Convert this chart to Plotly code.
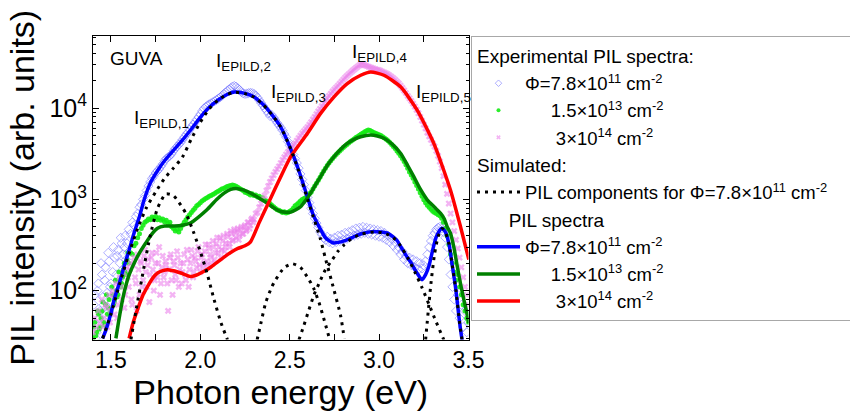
import math
import plotly.graph_objects as go

FONT = "Arial, Liberation Sans, sans-serif"

# ---------------- experimental spectra ----------------
exp_energy = [
    1.40, 1.41, 1.42, 1.43, 1.44, 1.45, 1.46, 1.47, 1.48, 1.49,
    1.50, 1.51, 1.52, 1.53, 1.54, 1.55, 1.56, 1.57, 1.58, 1.59,
    1.60, 1.61, 1.62, 1.63, 1.64, 1.65, 1.66, 1.67, 1.68, 1.69,
    1.70, 1.71, 1.72, 1.73, 1.74, 1.75, 1.76, 1.77, 1.78, 1.79,
    1.80, 1.81, 1.82, 1.83, 1.84, 1.85, 1.86, 1.87, 1.88, 1.89,
    1.90, 1.91, 1.92, 1.93, 1.94, 1.95, 1.96, 1.97, 1.98, 1.99,
    2.00, 2.01, 2.02, 2.03, 2.04, 2.05, 2.06, 2.07, 2.08, 2.09,
    2.10, 2.11, 2.12, 2.13, 2.14, 2.15, 2.16, 2.17, 2.18, 2.19,
    2.20, 2.21, 2.22, 2.23, 2.24, 2.25, 2.26, 2.27, 2.28, 2.29,
    2.30, 2.31, 2.32, 2.33, 2.34, 2.35, 2.36, 2.37, 2.38, 2.39,
    2.40, 2.41, 2.42, 2.43, 2.44, 2.45, 2.46, 2.47, 2.48, 2.49,
    2.50, 2.51, 2.52, 2.53, 2.54, 2.55, 2.56, 2.57, 2.58, 2.59,
    2.60, 2.61, 2.62, 2.63, 2.64, 2.65, 2.66, 2.67, 2.68, 2.69,
    2.70, 2.71, 2.72, 2.73, 2.74, 2.75, 2.76, 2.77, 2.78, 2.79,
    2.80, 2.81, 2.82, 2.83, 2.84, 2.85, 2.86, 2.87, 2.88, 2.89,
    2.90, 2.91, 2.92, 2.93, 2.94, 2.95, 2.96, 2.97, 2.98, 2.99,
    3.00, 3.01, 3.02, 3.03, 3.04, 3.05, 3.06, 3.07, 3.08, 3.09,
    3.10, 3.11, 3.12, 3.13, 3.14, 3.15, 3.16, 3.17, 3.18, 3.19,
    3.20, 3.21, 3.22, 3.23, 3.24, 3.25, 3.26, 3.27, 3.28, 3.29,
    3.30, 3.31, 3.32, 3.33, 3.34, 3.35, 3.36, 3.37, 3.38, 3.39,
    3.40, 3.41, 3.42, 3.43, 3.44, 3.45, 3.46, 3.47, 3.48, 3.49,
    3.50,
]

exp_phi_7p8e11 = [
    45, 90, 35, 120, 60, 150, 70, 180, 95, 210,
    120, 160, 230, 150, 280, 200, 330, 250, 400, 330,
    470, 420, 560, 520, 650, 700, 820, 880, 1000, 1100,
    1250, 1400, 1550, 1700, 1800, 1950, 2050, 2150, 2300, 2450,
    2650, 2800, 2900, 3000, 3150, 3400, 3600, 3800, 4000, 4200,
    4500, 4800, 5100, 5400, 5800, 6200, 6600, 7000, 7500, 8000,
    8600, 9300, 9900, 10300, 10700, 11000, 11300, 11600, 11900, 12300,
    12700, 13100, 13600, 14200, 14800, 15400, 16000, 16600, 17200, 17500,
    17200, 16500, 15800, 15000, 14500, 14300, 14400, 14600, 14700, 14600,
    14300, 13800, 13000, 12200, 11400, 10700, 10000, 9400, 8800, 8200,
    8400, 7900, 7400, 6900, 6500, 6100, 5700, 5200, 4800, 4300,
    3900, 3500, 3100, 2800, 2500, 2200, 1900, 1650, 1450, 1250,
    1050, 920, 800, 700, 620, 550, 490, 440, 410, 380,
    360, 390, 340, 370, 330, 380, 340, 400, 350, 410,
    360, 430, 370, 440, 390, 460, 400, 480, 410, 490,
    420, 500, 430, 490, 420, 480, 410, 470, 400, 460,
    390, 450, 380, 430, 360, 400, 340, 370, 310, 340,
    280, 300, 250, 270, 220, 240, 200, 230, 190, 220,
    180, 210, 170, 200, 175, 190, 210, 250, 300, 350,
    400, 430, 470, 490, 500, 480, 440, 380, 300, 220,
    150, 110, 80, 60, 90, 50, 70, 40, 60, 35,
    45,
]

exp_phi_1p5e13 = [
    30, 45, 35, 55, 40, 60, 45, 70, 55, 80,
    60, 90, 75, 100, 90, 130, 120, 170, 160, 220,
    200, 260, 250, 310, 330, 380, 420, 480, 520, 560,
    580, 610, 600, 640, 620, 650, 600, 630, 590, 610,
    570, 590, 540, 560, 500, 480, 450, 470, 440, 480,
    520, 560, 600, 640, 680, 720, 760, 800, 850, 880,
    920, 960, 990, 1020, 1050, 1080, 1100, 1130, 1160, 1200,
    1230, 1260, 1300, 1320, 1350, 1380, 1400, 1420, 1440, 1420,
    1390, 1360, 1320, 1280, 1250, 1200, 1180, 1150, 1120, 1150,
    1100, 1120, 1060, 1080, 1020, 1040, 980, 960, 930, 900,
    860, 830, 800, 770, 760, 740, 720, 730, 710, 720,
    740, 760, 800, 850, 880, 920, 960, 1000, 1020, 1050,
    1100, 1150, 1200, 1300, 1400, 1500, 1620, 1750, 1900, 2050,
    2200, 2350, 2500, 2650, 2800, 2950, 3100, 3250, 3400, 3550,
    3700, 3850, 4000, 4150, 4300, 4450, 4600, 4750, 4900, 5050,
    5200, 5350, 5500, 5650, 5750, 5700, 5550, 5400, 5300, 5200,
    5100, 5000, 4850, 4700, 4550, 4400, 4200, 4000, 3800, 3600,
    3400, 3200, 3000, 2800, 2600, 2400, 2200, 2000, 1850, 1700,
    1550, 1420, 1300, 1180, 1080, 990, 920, 860, 820, 780,
    740, 720, 700, 680, 660, 620, 560, 480, 400, 320,
    250, 200, 160, 130, 150, 110, 90, 70, 60, 50,
    45,
]

exp_phi_3e14 = [
    35, 50, 40, 60, 45, 80, 50, 70, 40, 90,
    60, 100, 55, 120, 70, 140, 80, 160, 90, 180,
    110, 200, 70, 230, 120, 250, 90, 200, 130, 280,
    110, 220, 150, 260, 100, 200, 140, 300, 120, 240,
    160, 190, 60, 230, 130, 210, 150, 270, 110, 200,
    160, 250, 130, 220, 170, 280, 140, 230, 180, 300,
    160, 250, 200, 320, 190, 290, 230, 350, 220, 330,
    260, 380, 280, 400, 300, 420, 330, 450, 350, 470,
    380, 480, 400, 500, 420, 520, 460, 560, 520, 620,
    600, 700, 720, 820, 900, 1000, 1100, 1250, 1400, 1550,
    1700, 1850, 2000, 2150, 2300, 2500, 2700, 2900, 3100, 3300,
    3500, 3700, 3900, 4100, 4400, 4700, 5000, 5300, 5600, 5900,
    6200, 6600, 7000, 7500, 8000, 8600, 9200, 9800, 10500, 11200,
    12000, 12800, 13600, 14400, 15200, 16000, 16800, 17600, 18500, 19500,
    20500, 21500, 22500, 23500, 24500, 25500, 26500, 27500, 28500, 29500,
    30000, 30000, 29500, 29000, 28500, 28000, 27500, 27000, 26700, 26300,
    26000, 25500, 25000, 24500, 24000, 23400, 22700, 22000, 21200, 20400,
    19500, 18600, 17600, 16600, 15600, 14600, 13600, 12800, 12000, 11200,
    10400, 9600, 8800, 8000, 7300, 6600, 6000, 5400, 4900, 4500,
    4100, 3800, 3400, 3000, 2600, 2200, 1800, 1450, 1150, 900,
    700, 560, 450, 360, 290, 230, 180, 140, 110, 90,
    70,
]

# extra (half-step) points where the measured clouds are wide
extra_energy_low = [
    1.405, 1.415, 1.425, 1.435, 1.445, 1.455, 1.465, 1.475, 1.485, 1.495,
    1.505, 1.515, 1.525, 1.535, 1.545, 1.555, 1.565, 1.575, 1.585, 1.595,
]
extra_phi_7p8e11 = [70, 30, 100, 50, 200, 85, 130, 55, 260, 110,
                    75, 300, 110, 240, 130, 380, 170, 300, 220, 260]
extra_phi_1p5e13 = [40, 32, 60, 38, 50, 75, 42, 90, 65, 55,
                    110, 70, 130, 85, 160, 110, 140, 200, 150, 260]

extra_energy_pink = [
    1.455, 1.475, 1.495, 1.515, 1.535, 1.555, 1.575, 1.595,
    1.605, 1.615, 1.625, 1.635, 1.645, 1.655, 1.665, 1.675, 1.685, 1.695,
    1.705, 1.715, 1.725, 1.735, 1.745, 1.755, 1.765, 1.775, 1.785, 1.795,
    1.805, 1.815, 1.825, 1.835, 1.845, 1.855, 1.865, 1.875, 1.885, 1.895,
    1.905, 1.915, 1.925, 1.935, 1.945, 1.955, 1.965, 1.975, 1.985, 1.995,
    2.005, 2.015, 2.025, 2.035, 2.045, 2.055, 2.065, 2.075, 2.085, 2.095,
    2.105, 2.115, 2.125, 2.135, 2.145, 2.155, 2.165, 2.175, 2.185, 2.195,
    2.205, 2.215, 2.225, 2.235, 2.245, 2.255, 2.265, 2.275, 2.285, 2.295,
]
extra_phi_3e14 = [
    40, 65, 45, 90, 50, 110, 65, 140,
    170, 80, 190, 140, 60, 170, 210, 110, 240, 160,
    190, 75, 230, 170, 130, 260, 200, 90, 180, 140,
    210, 120, 170, 250, 90, 190, 130, 230, 170, 120,
    200, 150, 280, 110, 200, 240, 160, 210, 270, 190,
    230, 180, 270, 210, 320, 250, 200, 300, 260, 380,
    300, 230, 350, 270, 330, 390, 300, 420, 360, 430,
    450, 360, 470, 420, 500, 450, 560, 480, 600, 560,
]

# ---------------- simulated PIL spectra ----------------
sim1_e = [1.454, 1.472, 1.50, 1.518, 1.55, 1.574, 1.60, 1.63, 1.66, 1.686, 1.723, 1.76, 1.80,
          1.85, 1.90, 1.95, 2.00, 2.05, 2.10, 2.15, 2.19, 2.25, 2.30, 2.35, 2.40, 2.45,
          2.50, 2.55, 2.60, 2.63, 2.66, 2.70, 2.74, 2.78, 2.82, 2.86, 2.90, 2.97, 3.05,
          3.10, 3.12, 3.15, 3.18, 3.21, 3.24, 3.26, 3.28, 3.30, 3.32, 3.35, 3.37, 3.39,
          3.41, 3.43, 3.45, 3.465]
sim1_i = [30, 37, 56, 80, 126, 185, 270, 430, 650, 990, 1550, 2050, 2650,
          3450, 4450, 5900, 7900, 10200, 12300, 14100, 15000, 14500, 13300, 11000, 8500, 6200,
          3800, 2100, 1050, 690, 520, 380, 335, 340, 360, 390, 420, 445, 425,
          355, 305, 245, 200, 158, 132, 150, 190, 280, 390, 484, 440, 330,
          185, 100, 45, 28]

sim2_e = [1.528, 1.55, 1.574, 1.60, 1.63, 1.66, 1.696, 1.73, 1.761, 1.80, 1.854, 1.90, 1.947,
          1.99, 2.04, 2.09, 2.133, 2.17, 2.20, 2.24, 2.282, 2.33, 2.375, 2.41, 2.45, 2.506,
          2.561, 2.59, 2.617, 2.645, 2.673, 2.71, 2.748, 2.785, 2.822, 2.86, 2.897, 2.953,
          2.99, 3.027, 3.075, 3.12, 3.16, 3.194, 3.23, 3.269, 3.31, 3.343, 3.365, 3.381,
          3.399, 3.418, 3.437, 3.455, 3.474, 3.49, 3.502]
sim2_i = [30, 55, 95, 145, 200, 260, 335, 420, 484, 510, 510, 520, 555,
          640, 780, 990, 1170, 1290, 1320, 1270, 1170, 1030, 908, 810, 736, 725,
          834, 980, 1170, 1450, 1775, 2350, 2940, 3550, 4110, 4550, 4860, 5070,
          4950, 4670, 4000, 3200, 2350, 1775, 1300, 990, 820, 706, 610, 500,
          427, 300, 185, 120, 80, 58, 44]

sim3_e = [1.602, 1.625, 1.649, 1.68, 1.705, 1.735, 1.761, 1.79, 1.817, 1.85, 1.891, 1.947,
          1.985, 2.021, 2.06, 2.096, 2.135, 2.17, 2.21, 2.25, 2.28, 2.33, 2.385, 2.45,
          2.506, 2.599, 2.673, 2.748, 2.822, 2.897, 2.953, 3.027, 3.12, 3.213, 3.306,
          3.399, 3.455, 3.502]
sim3_i = [30, 45, 62, 90, 111, 138, 156, 166, 170, 165, 156, 143,
          150, 163, 182, 205, 235, 262, 290, 310, 340, 560, 950, 1775,
          2940, 5280, 8750, 13300, 18600, 22900, 24900, 22900, 17100, 9500, 4110,
          1270, 505, 219]

# ---------------- simulated PIL components (Phi = 7.8e11) ----------------
comp1_e = [1.612, 1.64, 1.686, 1.72, 1.761, 1.807, 1.85, 1.919, 1.96, 2.003, 2.04, 2.077, 2.115, 2.152]
comp1_i = [29, 60, 185, 400, 800, 1150, 1100, 706, 450, 258, 150, 80, 45, 29]

comp2_e = [1.454, 1.50, 1.55, 1.60, 1.65, 1.70, 1.75, 1.80, 1.85, 1.90, 1.95, 2.00, 2.05, 2.10,
           2.15, 2.19, 2.25, 2.30, 2.35, 2.40, 2.45, 2.50, 2.55, 2.60, 2.63, 2.67, 2.70,
           2.738, 2.785, 2.805]
comp2_i = [30, 55, 120, 250, 480, 820, 1200, 1700, 2200, 2900, 4600, 7000, 9800, 12300,
           14100, 14900, 14400, 13200, 11000, 8500, 6200, 3800, 2050, 1000, 660, 380, 225,
           120, 53, 30]

comp3_e = [2.318, 2.34, 2.366, 2.40, 2.422, 2.47, 2.515, 2.56, 2.608, 2.635, 2.664, 2.69, 2.722]
comp3_i = [29, 45, 74, 110, 132, 180, 197, 180, 132, 105, 74, 50, 30]

comp4_e = [2.552, 2.58, 2.608, 2.636, 2.664, 2.70, 2.738, 2.77, 2.803, 2.85, 2.90, 2.97, 3.03,
           3.08, 3.12, 3.16, 3.20, 3.24, 3.28, 3.32, 3.362]
comp4_i = [29, 42, 62, 90, 120, 170, 218, 270, 316, 375, 415, 440, 428,
           380, 310, 230, 160, 108, 70, 45, 29]

comp5_e = [3.26, 3.275, 3.29, 3.31, 3.33, 3.353, 3.37, 3.39, 3.41, 3.43, 3.45, 3.465]
comp5_i = [29, 60, 120, 250, 390, 480, 440, 330, 185, 100, 45, 28]

# ---------------- labels ----------------
peak_labels = ["I<sub>EPILD,1</sub>", "I<sub>EPILD,2</sub>", "I<sub>EPILD,3</sub>",
               "I<sub>EPILD,4</sub>", "I<sub>EPILD,5</sub>"]
peak_label_e = [1.785, 2.240, 2.547, 3.002, 3.360]
peak_label_i = [7600, 31800, 14750, 40500, 14750]

x_ticks = [1.5, 2.0, 2.5, 3.0, 3.5]
x_ticktext = ["1.5", "2.0", "2.5", "3.0", "3.5"]
y_ticks = [100, 1000, 10000]
y_ticktext = ["10<sup>2</sup>", "10<sup>3</sup>", "10<sup>4</sup>"]

NB = "\u00a0"
name_phi1 = "\u03a6=7.8\u00d710<sup>11</sup> cm<sup>-2</sup>"
name_phi2 = NB * 5 + "1.5\u00d710<sup>13</sup> cm<sup>-2</sup>"
name_phi3 = NB * 6 + "3\u00d710<sup>14</sup> cm<sup>-2</sup>"
name_comp = "PIL components for \u03a6=7.8\u00d710<sup>11</sup> cm<sup>-2</sup>" + NB * 8

DIAMOND = dict(symbol="diamond-open", color="rgba(110,110,255,0.55)", line=dict(width=1))
DOT = dict(symbol="circle", color="rgba(20,235,20,0.9)")
CROSS = dict(symbol="x", color="rgba(235,130,235,0.6)", line=dict(width=0))

fig = go.Figure()

# experimental markers (plot)
fig.add_trace(go.Scatter(x=exp_energy + extra_energy_low, y=exp_phi_7p8e11 + extra_phi_7p8e11,
                         mode="markers", marker=dict(size=7, **DIAMOND), showlegend=False,
                         name=name_phi1))
fig.add_trace(go.Scatter(x=exp_energy + extra_energy_low, y=exp_phi_1p5e13 + extra_phi_1p5e13,
                         mode="markers", marker=dict(size=5, **DOT), showlegend=False,
                         name=name_phi2))
fig.add_trace(go.Scatter(x=exp_energy + extra_energy_pink, y=exp_phi_3e14 + extra_phi_3e14,
                         mode="markers", marker=dict(size=6, **CROSS), showlegend=False,
                         name=name_phi3))

# legend entries for the experimental spectra (small symbols as in the original)
GT = dict(size=19, family=FONT, color="black")
fig.add_trace(go.Scatter(x=[None], y=[None], mode="markers", name=name_phi1,
                         marker=dict(size=5, **DIAMOND), legendgroup="exp",
                         legendgrouptitle=dict(text="Experimental PIL spectra:", font=GT),
                         legendrank=1))
fig.add_trace(go.Scatter(x=[None], y=[None], mode="markers", name=name_phi2,
                         marker=dict(size=4, **DOT), legendgroup="exp", legendrank=2))
fig.add_trace(go.Scatter(x=[None], y=[None], mode="markers", name=name_phi3,
                         marker=dict(size=4, **CROSS), legendgroup="exp", legendrank=3))

# simulated spectra
LW = 3.5
fig.add_trace(go.Scatter(x=sim1_e, y=sim1_i, mode="lines", name=name_phi1,
                         line=dict(color="#0000ff", width=LW, shape="spline", smoothing=0.6),
                         legendgroup="spec",
                         legendgrouptitle=dict(text=NB * 6 + "PIL spectra", font=GT),
                         legendrank=5))
fig.add_trace(go.Scatter(x=sim2_e, y=sim2_i, mode="lines", name=name_phi2,
                         line=dict(color="#008000", width=LW, shape="spline", smoothing=0.6),
                         legendgroup="spec", legendrank=6))
fig.add_trace(go.Scatter(x=sim3_e, y=sim3_i, mode="lines", name=name_phi3,
                         line=dict(color="#ff0000", width=LW, shape="spline", smoothing=0.6),
                         legendgroup="spec", legendrank=7))

# components (dotted)
for k, (ce, ci) in enumerate([(comp1_e, comp1_i), (comp2_e, comp2_i), (comp3_e, comp3_i),
                              (comp4_e, comp4_i), (comp5_e, comp5_i)]):
    fig.add_trace(go.Scatter(
        x=ce, y=ci, mode="lines", name=name_comp,
        line=dict(color="black", width=3, dash="3px,5px", shape="spline", smoothing=0.6),
        legendgroup="sim", showlegend=(k == 0), legendrank=4,
        legendgrouptitle=dict(text="Simulated:", font=GT) if k == 0 else None))

# annotations
annotations = [dict(x=1.483, y=4.546, xref="x", yref="y", text="GUVA", showarrow=False,
                    xanchor="left", yanchor="middle", font=dict(size=19, family=FONT, color="black"))]
for t, e, i in zip(peak_labels, peak_label_e, peak_label_i):
    annotations.append(dict(x=e, y=math.log10(i), xref="x", yref="y", text=t, showarrow=False,
                            xanchor="center", yanchor="middle",
                            font=dict(size=19, family=FONT, color="black")))

axis_common = dict(showline=True, linecolor="black", linewidth=1, mirror="allticks",
                   ticks="inside", ticklen=6, tickwidth=1, tickcolor="black",
                   showgrid=False, zeroline=False)

fig.update_layout(
    width=850, height=411,
    margin=dict(l=0, r=0, t=0, b=0, autoexpand=False),
    paper_bgcolor="white", plot_bgcolor="white",
    font=dict(family=FONT, color="black"),
    xaxis=dict(domain=[93 / 850, 468.5 / 850], range=[1.4, 3.5],
               tickvals=x_ticks, ticktext=x_ticktext, tickfont=dict(size=23),
               minor=dict(dtick=0.25, tick0=1.5, ticks="inside", ticklen=6, tickcolor="black"),
               title=dict(text="Photon energy (eV)", font=dict(size=34), standoff=6),
               **axis_common),
    yaxis=dict(domain=[(411 - 339.5) / 411, (411 - 36) / 411], type="log",
               range=[1.465, 4.79],
               tickvals=y_ticks, ticktext=y_ticktext, tickfont=dict(size=25),
               minor=dict(dtick="D1", ticks="inside", ticklen=3, tickcolor="black"),
               title=dict(text="PIL intensity (arb. units)", font=dict(size=34), standoff=4),
               **axis_common),
    legend=dict(x=471 / 850, y=(411 - 36) / 411, xanchor="left", yanchor="top",
                bgcolor="white", bordercolor="#a8a8a8", borderwidth=1,
                font=dict(size=18.5, family=FONT, color="black"),
                tracegroupgap=0, traceorder="grouped", itemsizing="trace", itemwidth=43),
    annotations=annotations,
    showlegend=True,
)

fig.write_html("out.html")
